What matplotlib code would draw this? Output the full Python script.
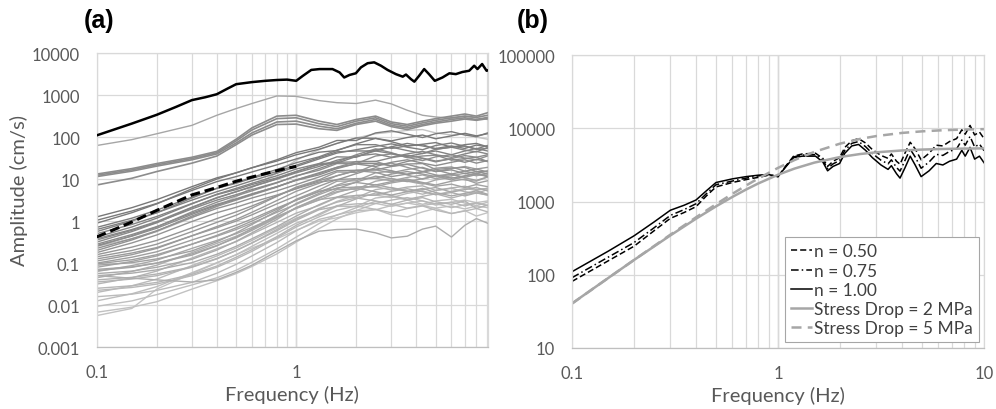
import matplotlib.pyplot as plt
import numpy as np

plt.rcParams["font.family"] = ["Lato", "DejaVu Sans"]

# ---------------- data (a) ----------------
# frequency grid of the station spectra (Hz)
freq_grey = [0.1, 0.15, 0.2, 0.3, 0.4, 0.5, 0.6, 0.8, 1.0, 1.3, 1.6,
             2.0, 2.5, 3.0, 3.6, 4.3, 5.0, 6.0, 7.0, 8.0, 9.1]

# log10 amplitude (cm/s), near-source records above the main cloud
upper_log10 = [
    [1.80, 1.94, 2.08, 2.28, 2.52, 2.68, 2.80, 2.98, 2.97, 2.87, 2.82, 2.80, 2.88, 2.79, 2.64, 2.52, 2.48, 2.45, 2.50, 2.46, 2.42],
    [1.12, 1.25, 1.37, 1.52, 1.66, 1.95, 2.22, 2.50, 2.52, 2.38, 2.30, 2.42, 2.50, 2.36, 2.30, 2.38, 2.44, 2.50, 2.55, 2.50, 2.58],
    [1.09, 1.22, 1.34, 1.49, 1.63, 1.91, 2.17, 2.44, 2.46, 2.32, 2.25, 2.38, 2.46, 2.32, 2.26, 2.34, 2.40, 2.46, 2.50, 2.47, 2.52],
    [1.06, 1.19, 1.31, 1.46, 1.60, 1.86, 2.10, 2.36, 2.38, 2.26, 2.20, 2.33, 2.42, 2.28, 2.22, 2.30, 2.36, 2.42, 2.46, 2.42, 2.47],
    [0.86, 1.02, 1.18, 1.38, 1.55, 1.82, 2.05, 2.30, 2.31, 2.20, 2.16, 2.30, 2.38, 2.25, 2.18, 2.27, 2.33, 2.38, 2.43, 2.40, 2.44],
]

# log10 amplitude (cm/s), main cloud of records (roughly top to bottom at 0.1 Hz)
bulk_log10 = [
    [0.10, 0.32, 0.51, 0.82, 1.03, 1.15, 1.27, 1.43, 1.58, 1.71, 1.85, 1.98, 1.97, 1.91, 1.99, 2.05, 1.96, 2.03, 2.09, 2.03, 2.08],
    [0.02, 0.24, 0.42, 0.73, 0.94, 1.06, 1.17, 1.34, 1.48, 1.64, 1.68, 1.84, 1.97, 1.89, 1.79, 1.83, 1.87, 1.76, 1.82, 1.85, 1.77],
    [-0.05, 0.20, 0.41, 0.77, 1.00, 1.15, 1.27, 1.46, 1.63, 1.76, 1.92, 1.92, 2.10, 2.15, 2.07, 1.99, 2.08, 2.13, 2.05, 2.01, 2.10],
    [-0.15, 0.07, 0.26, 0.57, 0.78, 0.90, 1.02, 1.18, 1.33, 1.51, 1.65, 1.67, 1.67, 1.77, 1.85, 1.79, 1.73, 1.79, 1.73, 1.81, 1.77],
    [-0.20, 0.02, 0.20, 0.50, 0.70, 0.84, 0.96, 1.14, 1.30, 1.48, 1.62, 1.70, 1.78, 1.84, 1.76, 1.70, 1.80, 1.86, 1.78, 1.72, 1.80],
    [-0.25, 0.00, 0.20, 0.55, 0.78, 0.92, 1.04, 1.23, 1.39, 1.53, 1.69, 1.82, 1.82, 1.73, 1.79, 1.82, 1.71, 1.76, 1.79, 1.71, 1.73],
    [-0.30, -0.08, 0.11, 0.42, 0.63, 0.75, 0.87, 1.03, 1.18, 1.34, 1.38, 1.54, 1.67, 1.61, 1.54, 1.61, 1.67, 1.58, 1.67, 1.73, 1.67],
    [-0.38, -0.14, 0.07, 0.41, 0.64, 0.78, 0.90, 1.08, 1.24, 1.37, 1.53, 1.52, 1.70, 1.76, 1.68, 1.61, 1.71, 1.76, 1.69, 1.65, 1.75],
    [-0.42, -0.20, -0.01, 0.33, 0.56, 0.70, 0.82, 1.00, 1.15, 1.30, 1.45, 1.55, 1.60, 1.52, 1.60, 1.66, 1.58, 1.52, 1.60, 1.66, 1.60],
    [-0.45, -0.22, -0.03, 0.29, 0.50, 0.63, 0.75, 0.92, 1.07, 1.25, 1.40, 1.41, 1.42, 1.51, 1.57, 1.50, 1.43, 1.48, 1.40, 1.47, 1.42],
    [-0.50, -0.25, -0.04, 0.32, 0.55, 0.70, 0.82, 1.01, 1.18, 1.36, 1.41, 1.58, 1.72, 1.63, 1.51, 1.55, 1.57, 1.45, 1.49, 1.52, 1.42],
    [-0.55, -0.32, -0.13, 0.19, 0.40, 0.53, 0.65, 0.82, 0.97, 1.10, 1.25, 1.37, 1.37, 1.32, 1.42, 1.49, 1.41, 1.49, 1.56, 1.52, 1.58],
    [-0.58, -0.36, -0.17, 0.16, 0.38, 0.52, 0.64, 0.82, 0.98, 1.15, 1.28, 1.36, 1.30, 1.40, 1.46, 1.38, 1.32, 1.40, 1.46, 1.38, 1.44],
    [-0.60, -0.35, -0.14, 0.22, 0.45, 0.60, 0.72, 0.91, 1.08, 1.21, 1.37, 1.37, 1.55, 1.60, 1.52, 1.44, 1.53, 1.58, 1.50, 1.46, 1.55],
    [-0.65, -0.42, -0.23, 0.09, 0.30, 0.43, 0.55, 0.72, 0.87, 1.05, 1.20, 1.21, 1.22, 1.30, 1.35, 1.26, 1.18, 1.22, 1.13, 1.18, 1.12],
    [-0.70, -0.45, -0.24, 0.12, 0.35, 0.50, 0.62, 0.81, 0.98, 1.13, 1.28, 1.42, 1.42, 1.31, 1.36, 1.37, 1.23, 1.26, 1.28, 1.18, 1.18],
    [-0.75, -0.52, -0.33, -0.01, 0.20, 0.33, 0.45, 0.62, 0.77, 0.93, 0.98, 1.13, 1.27, 1.20, 1.11, 1.17, 1.22, 1.12, 1.19, 1.24, 1.17],
    [-0.80, -0.62, -0.46, -0.16, 0.06, 0.22, 0.36, 0.60, 0.78, 0.96, 1.08, 1.20, 1.16, 1.06, 1.12, 1.18, 1.10, 1.02, 1.08, 1.14, 1.06],
    [-0.85, -0.70, -0.55, -0.25, -0.03, 0.14, 0.31, 0.59, 0.81, 0.98, 1.17, 1.16, 1.35, 1.38, 1.28, 1.18, 1.26, 1.29, 1.19, 1.13, 1.20],
    [-0.90, -0.76, -0.63, -0.35, -0.16, 0.00, 0.15, 0.41, 0.60, 0.83, 0.99, 1.01, 1.02, 1.12, 1.18, 1.12, 1.06, 1.11, 1.04, 1.11, 1.07],
    [-0.95, -0.80, -0.65, -0.35, -0.13, 0.04, 0.21, 0.49, 0.71, 0.90, 1.08, 1.21, 1.22, 1.15, 1.23, 1.28, 1.18, 1.25, 1.30, 1.24, 1.28],
    [-1.00, -0.86, -0.73, -0.45, -0.26, -0.10, 0.05, 0.31, 0.50, 0.71, 0.77, 0.93, 1.07, 1.01, 0.94, 1.01, 1.07, 0.98, 1.07, 1.13, 1.07],
    [-1.02, -0.92, -0.80, -0.55, -0.34, -0.16, 0.00, 0.28, 0.50, 0.70, 0.84, 0.92, 0.86, 0.94, 1.00, 0.92, 0.86, 0.95, 1.00, 0.90, 0.96],
    [-1.05, -0.99, -0.90, -0.71, -0.49, -0.28, -0.08, 0.24, 0.52, 0.74, 0.95, 0.96, 1.15, 1.19, 1.10, 1.00, 1.08, 1.12, 1.03, 0.97, 1.05],
    [-1.10, -0.96, -0.83, -0.55, -0.36, -0.20, -0.05, 0.21, 0.40, 0.63, 0.79, 0.81, 0.82, 0.91, 0.97, 0.90, 0.83, 0.88, 0.80, 0.87, 0.82],
    [-1.15, -1.09, -1.00, -0.81, -0.59, -0.38, -0.18, 0.14, 0.42, 0.66, 0.86, 1.01, 1.02, 0.96, 1.04, 1.10, 1.01, 1.08, 1.14, 1.08, 1.13],
    [-1.18, -1.10, -1.00, -0.78, -0.58, -0.40, -0.22, 0.08, 0.32, 0.56, 0.70, 0.78, 0.70, 0.62, 0.70, 0.78, 0.68, 0.60, 0.66, 0.72, 0.64],
    [-1.20, -1.06, -0.93, -0.65, -0.46, -0.30, -0.15, 0.11, 0.30, 0.51, 0.57, 0.73, 0.87, 0.79, 0.70, 0.75, 0.80, 0.69, 0.75, 0.80, 0.72],
    [-1.25, -1.19, -1.10, -0.91, -0.69, -0.48, -0.28, 0.04, 0.32, 0.54, 0.75, 0.76, 0.95, 1.01, 0.95, 0.88, 0.98, 1.04, 0.98, 0.95, 1.05],
    [-1.30, -1.24, -1.16, -0.99, -0.79, -0.60, -0.42, -0.13, 0.12, 0.39, 0.57, 0.61, 0.62, 0.71, 0.77, 0.70, 0.63, 0.68, 0.60, 0.67, 0.62],
    [-1.30, -1.36, -1.40, -1.45, -1.40, -1.22, -1.05, -0.72, -0.47, -0.24, -0.20, -0.19, -0.28, -0.40, -0.36, -0.19, -0.12, -0.38, -0.10, 0.06, -0.05],
    [-1.35, -1.20, -1.05, -0.75, -0.53, -0.36, -0.19, 0.09, 0.31, 0.50, 0.68, 0.81, 0.82, 0.74, 0.81, 0.84, 0.73, 0.79, 0.83, 0.75, 0.78],
    [-1.40, -1.34, -1.26, -1.09, -0.89, -0.70, -0.52, -0.23, 0.02, 0.27, 0.35, 0.53, 0.67, 0.61, 0.52, 0.59, 0.65, 0.55, 0.63, 0.68, 0.62],
    [-1.45, -1.38, -1.30, -1.10, -0.90, -0.70, -0.52, -0.20, 0.05, 0.30, 0.45, 0.55, 0.48, 0.40, 0.50, 0.56, 0.46, 0.40, 0.48, 0.30, 0.38],
    [-1.50, -1.35, -1.19, -0.88, -0.66, -0.49, -0.31, -0.03, 0.19, 0.37, 0.56, 0.56, 0.75, 0.80, 0.72, 0.64, 0.73, 0.78, 0.70, 0.66, 0.75],
    [-1.60, -1.54, -1.46, -1.27, -1.07, -0.86, -0.68, -0.37, -0.10, 0.17, 0.37, 0.41, 0.42, 0.50, 0.56, 0.48, 0.41, 0.45, 0.36, 0.43, 0.37],
    [-1.65, -1.58, -1.50, -1.30, -1.10, -0.90, -0.72, -0.40, -0.14, 0.10, 0.26, 0.36, 0.28, 0.20, 0.30, 0.36, 0.26, 0.18, 0.24, 0.30, 0.22],
    [-1.70, -1.54, -1.38, -1.06, -0.83, -0.64, -0.46, -0.16, 0.07, 0.28, 0.47, 0.61, 0.62, 0.56, 0.66, 0.72, 0.63, 0.71, 0.78, 0.73, 0.78],
    [-1.80, -1.74, -1.65, -1.46, -1.24, -1.03, -0.83, -0.51, -0.23, 0.04, 0.14, 0.32, 0.47, 0.40, 0.31, 0.37, 0.42, 0.32, 0.39, 0.44, 0.37],
    [-1.90, -1.73, -1.56, -1.23, -0.99, -0.80, -0.60, -0.29, -0.05, 0.14, 0.35, 0.35, 0.55, 0.59, 0.50, 0.40, 0.48, 0.52, 0.43, 0.37, 0.45],
    [-2.03, -1.90, -1.75, -1.52, -1.35, -1.17, -0.98, -0.66, -0.38, -0.06, 0.15, 0.25, 0.27, 0.37, 0.43, 0.37, 0.31, 0.36, 0.29, 0.36, 0.32],
    [-2.17, -2.05, -1.92, -1.62, -1.42, -1.25, -1.08, -0.78, -0.50, -0.18, 0.05, 0.25, 0.42, 0.35, 0.43, 0.48, 0.38, 0.45, 0.50, 0.44, 0.48],
    [-2.25, -2.08, -1.62, -1.25, -1.00, -0.80, -0.64, -0.42, -0.22, 0.00, 0.08, 0.20, 0.28, 0.15, 0.10, 0.22, 0.30, 0.18, 0.25, 0.12, 0.20],
    [-0.60, -0.42, -0.25, 0.08, 0.35, 0.58, 0.80, 1.15, 1.45, 1.70, 1.85, 1.98, 2.08, 2.12, 2.16, 2.18, 2.10, 2.05, 2.08, 2.00, 1.95],
]

# dashed low-frequency fit (a)
freq_fit = [0.1, 0.15, 0.2, 0.3, 0.4, 0.5, 0.6, 0.7, 0.8, 0.9, 1.0]
amp_fit = [0.42, 0.95, 1.8, 4.2, 6.3, 8.9, 11.2, 13.5, 15.8, 18.2, 20.0]

# target record, scaled with n = 1.00 / 0.75 / 0.50
freq_obs = [0.1, 0.15, 0.2, 0.25, 0.3, 0.35, 0.4, 0.45, 0.5, 0.6, 0.7, 0.8, 0.9, 1.0,
            1.08, 1.19, 1.31, 1.52, 1.65, 1.74, 1.85, 1.99, 2.11, 2.28, 2.46, 2.66,
            2.87, 3.16, 3.42, 3.55, 3.76, 3.91, 4.13, 4.38, 4.63, 4.95, 5.41, 5.86,
            6.31, 6.8, 7.36, 7.8, 8.1, 8.55, 9.0, 9.5, 10.0]
amp_n100 = [110, 210, 340, 525, 760, 890, 1050, 1410, 1820, 2040, 2190, 2290, 2340, 2190,
            2880, 3980, 4170, 4170, 3470, 2630, 3020, 3310, 4570, 5750, 6030, 5010,
            3980, 3160, 2750, 3090, 2400, 2090, 2880, 4170, 3160, 2190, 2630, 3310,
            3160, 3550, 3800, 5010, 4170, 5500, 3800, 4170, 3390]
amp_n075 = [91, 174, 275, 437, 646, 776, 933, 1288, 1698, 1905, 2089, 2239, 2340, 2188,
            2917, 4074, 4315, 4365, 3673, 2818, 3273, 3631, 5012, 6237, 6607, 5623,
            4519, 3673, 3273, 3715, 2917, 2600, 3631, 5188, 4074, 2851, 3467, 4416,
            4266, 4842, 5248, 6918, 5888, 7762, 5559, 6095, 4955]
amp_n050 = [81, 155, 245, 398, 589, 708, 851, 1202, 1585, 1820, 1995, 2138, 2291, 2188,
            2951, 4169, 4467, 4571, 3890, 3020, 3548, 3981, 5495, 6761, 7244, 6310,
            5129, 4266, 3890, 4467, 3548, 3236, 4571, 6457, 5248, 3715, 4571, 5888,
            5754, 6607, 7244, 9550, 8318, 10965, 8128, 8913, 7244]

# Brune-type source spectra (b)
freq_model = [0.1, 0.15, 0.2, 0.3, 0.4, 0.5, 0.6, 0.7, 0.8, 1.0, 1.2, 1.5,
              2.0, 2.5, 3.0, 4.0, 5.0, 6.0, 7.0, 8.0, 10.0]
amp_sd2 = [40.5, 90.3, 159, 344, 583, 859, 1155, 1460, 1761, 2325, 2815, 3401,
           4058, 4457, 4708, 4988, 5129, 5209, 5258, 5291, 5329]
amp_sd5 = [40.3, 90.3, 159, 352, 609, 919, 1273, 1656, 2058, 2883, 3684, 4768,
           6183, 7168, 7847, 8663, 9101, 9358, 9520, 9628, 9759]

series_labels = ["n = 0.50", "n = 0.75", "n = 1.00",
                 "Stress Drop = 2 MPa", "Stress Drop = 5 MPa"]

yticks_a = [0.001, 0.01, 0.1, 1, 10, 100, 1000, 10000]
ylabels_a = ["0.001", "0.01", "0.1", "1", "10", "100", "1000", "10000"]
yticks_b = [10, 100, 1000, 10000, 100000]
ylabels_b = ["10", "100", "1000", "10000", "100000"]
xticks_a = [0.1, 1]
xlabels_a = ["0.1", "1"]
xticks_b = [0.1, 1, 10]
xlabels_b = ["0.1", "1", "10"]

# ---------------- figure ----------------
text_col = "#595959"
grid_col = "#d9d9d9"

fig = plt.figure(figsize=(9.96, 4.10), dpi=100)
ax_a = fig.add_axes([0.0971, 0.151, 0.3924, 0.717])
ax_b = fig.add_axes([0.5743, 0.149, 0.4137, 0.714])


def excel_axes(ax, xlim, ylim, xticks, xlabels, yticks, ylabels):
    ax.set_xscale("log")
    ax.set_yscale("log")
    ax.set_xlim(*xlim)
    ax.set_ylim(*ylim)
    ax.set_xticks(xticks, xlabels)
    ax.set_yticks(yticks, ylabels)
    minor = [m * 10.0 ** e for e in (-1, 0) for m in range(2, 10)]
    ax.set_xticks([m for m in minor if m <= xlim[1]], minor=True)
    ax.set_yticks([], minor=True)
    ax.xaxis.set_minor_formatter(plt.NullFormatter())
    ax.grid(which="major", color=grid_col, lw=0.9)
    ax.grid(which="minor", axis="x", color=grid_col, lw=0.9)
    ax.axvline(1, color="#b3b3b3", lw=0.9, zorder=0.5)
    ax.set_axisbelow(True)
    for s in ax.spines.values():
        s.set_color(grid_col)
        s.set_linewidth(0.9)
    ax.spines["bottom"].set_color("#bfbfbf")
    ax.tick_params(which="both", length=0, labelcolor=text_col, labelsize=12)
    ax.tick_params(axis="x", pad=12)
    ax.tick_params(axis="y", pad=12)
    ax.set_xlabel("Frequency (Hz)", color=text_col, fontsize=14.5, labelpad=4)


# (a)
excel_axes(ax_a, (0.1, 9.1), (0.001, 10000), xticks_a, xlabels_a, yticks_a, ylabels_a)
n_bulk = len(bulk_log10)
for i, row in reversed(list(enumerate(bulk_log10))):
    g = 0.47 + 0.30 * i / (n_bulk - 1)
    ax_a.plot(freq_grey, 10.0 ** np.array(row), color=(g, g, g), lw=1.0)
ax_a.plot(freq_grey, 10.0 ** np.array(upper_log10[0]), color="#a6a6a6", lw=1.0)
for row in upper_log10[1:]:
    ax_a.plot(freq_grey, 10.0 ** np.array(row), color="#8c8c8c", lw=1.2)
ax_a.plot(freq_fit, amp_fit, color="black", lw=2.2, ls=(0, (3.2, 1.6)), zorder=5)
ax_a.plot(freq_obs, amp_n100, color="black", lw=1.8, zorder=6)
fig.text(0.019, 0.535, "Amplitude (cm/s)", rotation=90, ha="center", va="center",
         color=text_col, fontsize=14.5)

# (b)
excel_axes(ax_b, (0.1, 10), (10, 100000), xticks_b, xlabels_b, yticks_b, ylabels_b)
ax_b.plot(freq_obs, amp_n050, color="black", lw=1.1, ls=(0, (4, 2)), label=series_labels[0])
ax_b.plot(freq_obs, amp_n075, color="black", lw=1.1, ls=(0, (5, 2, 1, 2)), label=series_labels[1])
ax_b.plot(freq_obs, amp_n100, color="black", lw=1.1, label=series_labels[2])
ax_b.plot(freq_model, amp_sd2, color="#a6a6a6", lw=1.8, label=series_labels[3])
ax_b.plot(freq_model, amp_sd5, color="#a6a6a6", lw=1.8, ls=(0, (4, 2.5)), label=series_labels[4])
leg = ax_b.legend(loc="lower right", bbox_to_anchor=(0.988, 0.02), fancybox=False,
                  edgecolor="#a6a6a6", framealpha=1, fontsize=12.5, handlelength=1.2,
                  handletextpad=0.12, labelspacing=0.18, borderpad=0.35,
                  borderaxespad=0, labelcolor="#404040")
leg.get_frame().set_linewidth(0.8)

fig.text(0.099, 0.948, "(a)", fontsize=18, fontweight="bold", ha="center", va="center",
         family="Liberation Sans")
fig.text(0.535, 0.948, "(b)", fontsize=18, fontweight="bold", ha="center", va="center",
         family="Liberation Sans")

fig.savefig("out.png", dpi=100)
